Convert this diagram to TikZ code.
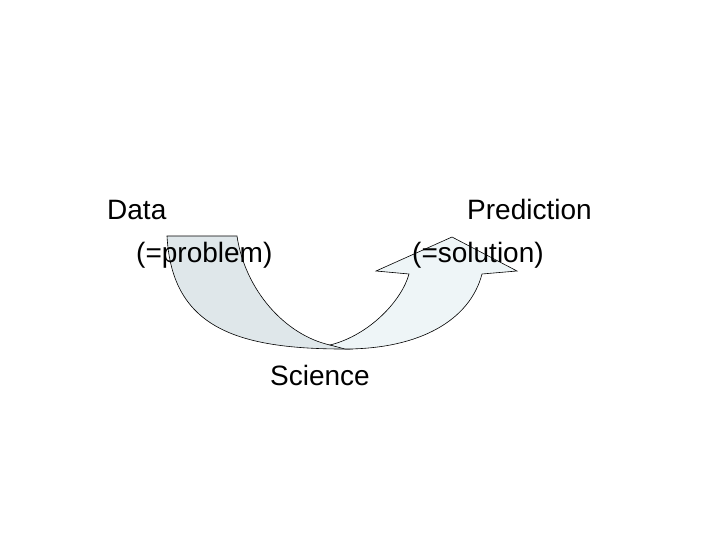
\documentclass[tikz,border=0pt]{standalone}
\usepackage{fontspec}
\setmainfont{Liberation Sans}
\definecolor{backband}{RGB}{223,231,234}
\definecolor{frontband}{RGB}{238,245,247}
\begin{document}
\begin{tikzpicture}[x=1pt,y=-1pt,
  band/.style={draw=black,line width=0.6pt,line join=miter},
  lbl/.style={inner sep=0pt,anchor=base west,font=\fontsize{28}{34}\selectfont}]
\useasboundingbox[fill=white] (0,0) rectangle (720,540);
% back band (tail)
\fill[backband,draw=black,line width=0.6pt]
  (167,236) -- (237,236)
  .. controls (245,290) and (285,335) .. (330,345)
  -- (353,349)
  .. controls (240,350) and (172,330) .. (167,236) -- cycle;
% front band with arrow head
\fill[frontband,draw=black,line width=0.6pt]
  (330,345) .. controls (370,335) and (402,300) .. (409,274)
  -- (376,271) -- (452,237) -- (517,271) -- (482,274)
  .. controls (470,320) and (420,349) .. (345,349)
  -- cycle;
\node[lbl] (data) at (107,220) {Data};
\node[lbl] (problem) at (136,262) {(=problem)};
\node[lbl] (prediction) at (467,220) {Prediction};
\node[lbl] (solution) at (412,262) {(=solution)};
\node[lbl] (science) at (270,385) {Science};
\end{tikzpicture}
\end{document}
